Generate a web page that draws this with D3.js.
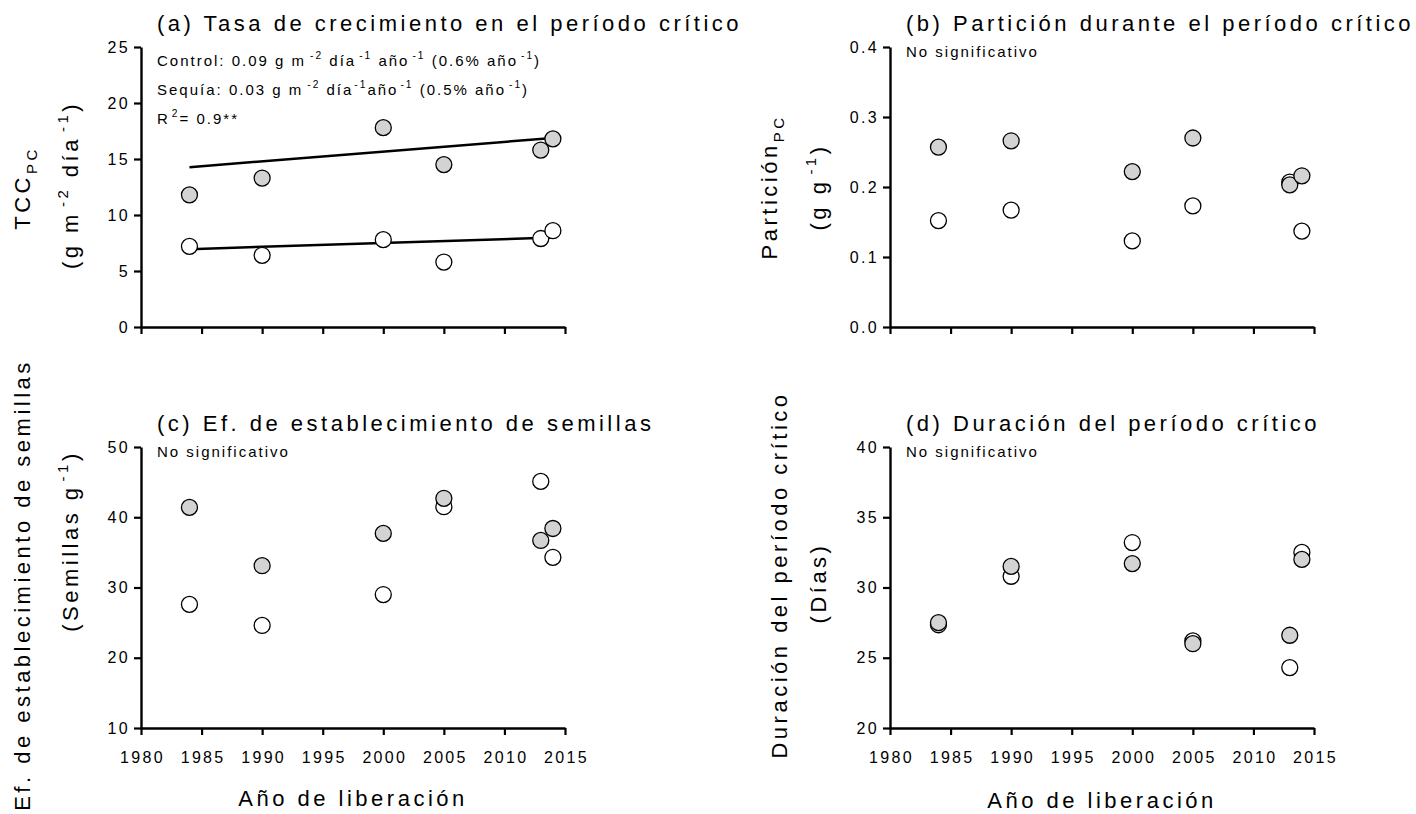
<!DOCTYPE html>
<html>
<head>
<meta charset="utf-8">
<script src="https://cdn.jsdelivr.net/npm/d3@7"></script>
<style>
body { margin: 0; background: #fff; }
text { font-family: Arial, "Liberation Sans", sans-serif; fill: #000; }
</style>
</head>
<body>
<script>
// años de liberación de los cultivares
var years = [1984, 1990, 2000, 2005, 2013, 2014];
var xTicks = [1980, 1985, 1990, 1995, 2000, 2005, 2010, 2015];

// (a) TCC en el período crítico
var tccControl = [11.8, 13.3, 17.8, 14.5, 15.8, 16.8];
var tccSequia  = [7.2, 6.4, 7.8, 5.8, 7.9, 8.6];
var fitYears = [1984, 2014];
var tccControlFit = [14.27, 16.88];
var tccSequiaFit  = [6.95, 7.98];

// (b) partición
var partControl = [0.257, 0.266, 0.222, 0.270, 0.203, 0.216];
var partSequia  = [0.152, 0.167, 0.123, 0.173, 0.207, 0.137];

// (c) eficiencia de establecimiento
var efControl = [41.4, 33.1, 37.7, 42.7, 36.7, 38.4];
var efSequia  = [27.6, 24.6, 29.0, 41.5, 45.1, 34.3];

// (d) duración
var durControl = [27.5, 31.5, 31.7, 26.0, 26.6, 32.0];
var durSequia  = [27.35, 30.8, 33.2, 26.2, 24.3, 32.5];

var svg = d3.select("body").append("svg")
    .attr("width", 1416)
    .attr("height", 814);

// writes text made of pieces, some raised or lowered
// a third item in a piece is an extra gap before it
function rich(sel, parts, size) {
    var off = 0;
    parts.forEach(function (p) {
        var t = sel.append("tspan").text(p[0]);
        var target = 0;
        if (p[1] === "sup") { target = -size * 0.45; t.attr("font-size", size * 0.68); }
        if (p[1] === "sub") { target = size * 0.3; t.attr("font-size", size * 0.68); }
        t.attr("dy", target - off);
        if (p[2]) t.attr("dx", p[2]);
        off = target;
    });
}

function panel(cfg) {
    var g = svg.append("g")
        .attr("transform", "translate(" + cfg.left + "," + cfg.top + ")");

    var x = d3.scaleLinear().domain([1980, 2015]).range([0, cfg.w]);
    var y = d3.scaleLinear().domain(cfg.yDomain).range([cfg.h, 0]);

    var xAxis = d3.axisBottom(x).tickValues(xTicks)
        .tickSize(7).tickSizeOuter(0).tickPadding(17)
        .tickFormat(d3.format("d"));
    if (!cfg.xLabels) xAxis.tickFormat("");
    var gx = g.append("g")
        .attr("transform", "translate(0," + cfg.h + ")")
        .call(xAxis);

    var yAxis = d3.axisLeft(y).tickValues(cfg.yTicks)
        .tickSize(7).tickSizeOuter(0).tickPadding(4)
        .tickFormat(cfg.fmt);
    var gy = g.append("g").call(yAxis);

    [gx, gy].forEach(function (a) {
        a.attr("font-family", null).attr("font-size", null);
        a.select(".domain").attr("stroke-width", 2.4).attr("stroke", "#000");
        a.selectAll(".tick line").attr("stroke-width", 2.2).attr("stroke", "#000");
        a.selectAll(".tick text")
            .style("font-size", "16px")
            .style("letter-spacing", "2.3px")
            .attr("fill", "#000");
    });
    gx.selectAll(".tick text").attr("dx", "1px");

    // title
    g.append("text")
        .attr("x", 16)
        .attr("y", -16)
        .style("font-size", "22px")
        .style("letter-spacing", "3.5px")
        .text(cfg.title);

    // y axis title, two lines
    var yl1 = g.append("text")
        .attr("transform", "translate(" + cfg.yl1[0] + "," + cfg.yl1[1] + ") rotate(-90)")
        .attr("text-anchor", "middle")
        .style("font-size", "22px")
        .style("letter-spacing", "3.5px");
    rich(yl1, cfg.yLabel1, 22);
    var yl2 = g.append("text")
        .attr("transform", "translate(" + cfg.yl2[0] + "," + cfg.yl2[1] + ") rotate(-90)")
        .attr("text-anchor", "middle")
        .style("font-size", "22px")
        .style("letter-spacing", "3.5px");
    rich(yl2, cfg.yLabel2, 22);

    if (cfg.xLabels) {
        g.append("text")
            .attr("x", cfg.w / 2)
            .attr("y", cfg.h + cfg.xlY)
            .attr("text-anchor", "middle")
            .style("font-size", "22px")
            .style("letter-spacing", "3.5px")
            .text("Año de liberación");
    }

    if (cfg.notes) {
        cfg.notes.forEach(function (n, i) {
            var t = g.append("text")
                .attr("x", 16)
                .attr("y", cfg.noteY + i * 29)
                .style("font-size", "15px")
                .style("letter-spacing", "2px");
            rich(t, n, 15);
        });
    }

    if (cfg.fits) {
        var line = d3.line()
            .x(function (d) { return x(d[0]); })
            .y(function (d) { return y(d[1]); });
        cfg.fits.forEach(function (f) {
            g.append("path")
                .attr("d", line(d3.zip(fitYears, f)))
                .attr("fill", "none")
                .attr("stroke", "#000")
                .attr("stroke-width", 2.5);
        });
    }

    // sequía (blancos) debajo, control (grises) encima
    [[cfg.sequia, "#fff"], [cfg.control, "#d3d3d3"]].forEach(function (s) {
        g.selectAll(null)
            .data(d3.zip(years, s[0]))
            .enter().append("circle")
            .attr("cx", function (d) { return x(d[0]); })
            .attr("cy", function (d) { return y(d[1]); })
            .attr("r", 8)
            .attr("fill", s[1])
            .attr("stroke", "#000")
            .attr("stroke-width", 1.3);
    });
}

var noSig = [[["No significativo"]]];

panel({
    left: 141, top: 47, w: 424, h: 280,
    yDomain: [0, 25], yTicks: [0, 5, 10, 15, 20, 25], fmt: d3.format("d"),
    title: "(a) Tasa de crecimiento en el período crítico",
    yLabel1: [["TCC"], ["PC", "sub"]],
    yLabel2: [["(g m"], ["-2", "sup", 4], [" día"], ["-1", "sup", 4], [")"]],
    yl1: [-111, 141], yl2: [-63, 138],
    notes: [
        [["Control: 0.09 g m"], ["-2", "sup", 4], [" día"], ["-1", "sup", 3], [" año"], ["-1", "sup", 3], [" (0.6% año"], ["-1", "sup", 3], [")"]],
        [["Sequía: 0.03 g m"], ["-2", "sup", 4], [" día"], ["-1", "sup", 1], ["año"], ["-1", "sup", 2], [" (0.5% año"], ["-1", "sup", 3], [")"]],
        [["R"], ["2", "sup", 2], ["= 0.9**"]]
    ],
    noteY: 19,
    fits: [tccControlFit, tccSequiaFit],
    control: tccControl, sequia: tccSequia
});

panel({
    left: 890, top: 47, w: 424, h: 280,
    yDomain: [0, 0.4], yTicks: [0, 0.1, 0.2, 0.3, 0.4], fmt: d3.format(".1f"),
    title: "(b) Partición durante el período crítico",
    yLabel1: [["Partición"], ["PC", "sub"]],
    yLabel2: [["(g g"], ["-1", "sup", 4], [")"]],
    yl1: [-113, 140], yl2: [-64, 140],
    notes: noSig, noteY: 10,
    control: partControl, sequia: partSequia
});

panel({
    left: 141, top: 447, w: 424, h: 281,
    yDomain: [10, 50], yTicks: [10, 20, 30, 40, 50], fmt: d3.format("d"),
    title: "(c) Ef. de establecimiento de semillas",
    yLabel1: [["Ef. de establecimiento de semillas"]],
    yLabel2: [["(Semillas g"], ["-1", "sup", 3], [")"]],
    yl1: [-111, 138], yl2: [-63, 94],
    notes: noSig, noteY: 10, xLabels: true, xlY: 78,
    control: efControl, sequia: efSequia
});

panel({
    left: 890, top: 447, w: 424, h: 281,
    yDomain: [20, 40], yTicks: [20, 25, 30, 35, 40], fmt: d3.format("d"),
    title: "(d) Duración del período crítico",
    yLabel1: [["Duración del período crítico"]],
    yLabel2: [["(Días)"]],
    yl1: [-103, 128], yl2: [-64, 136],
    notes: noSig, noteY: 10, xLabels: true, xlY: 80,
    control: durControl, sequia: durSequia
});
</script>
</body>
</html>
